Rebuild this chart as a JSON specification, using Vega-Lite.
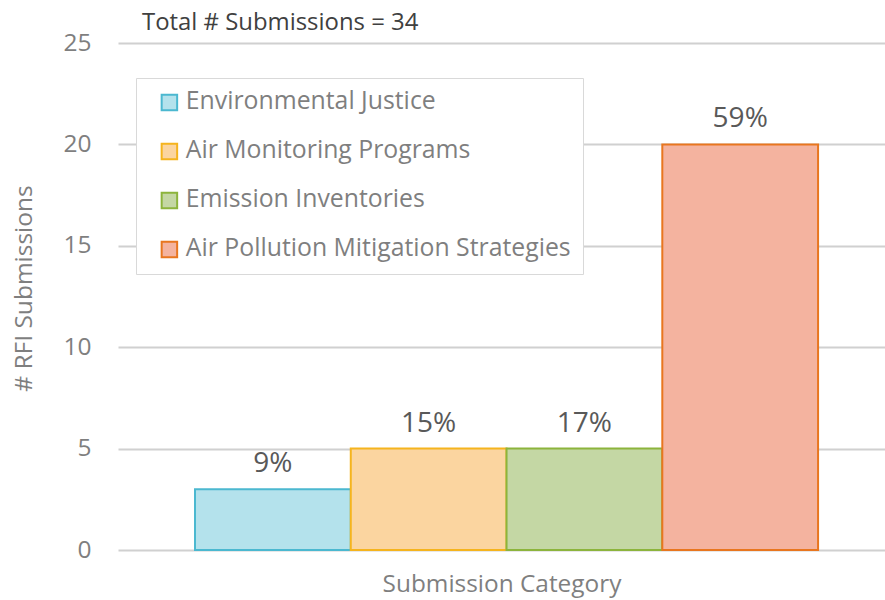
{
  "$schema": "https://vega.github.io/schema/vega-lite/v6.json",
  "width": 767,
  "height": 507,
  "autosize": {"type": "none"},
  "padding": {"left": 118, "top": 43, "right": 0, "bottom": 50},
  "background": "white",
  "title": {
    "text": "Total # Submissions = 34",
    "anchor": "start",
    "frame": "group",
    "dx": 24,
    "dy": 5,
    "offset": 0,
    "font": "Open Sans",
    "fontSize": 23.9,
    "fontWeight": "normal",
    "color": "#404040"
  },
  "data": {
    "values": [
      {"category": "Environmental Justice", "count": 3, "label": "9%"},
      {"category": "Air Monitoring Programs", "count": 5, "label": "15%"},
      {"category": "Emission Inventories", "count": 5, "label": "17%"},
      {"category": "Air Pollution Mitigation Strategies", "count": 20, "label": "59%"}
    ]
  },
  "config": {
    "view": {"stroke": null},
    "font": "Open Sans"
  },
  "encoding": {
    "x": {
      "field": "category",
      "type": "nominal",
      "sort": null,
      "title": "Submission Category",
      "scale": {"paddingInner": 0, "paddingOuter": 0.462, "align": 0.535},
      "axis": {
        "labels": false,
        "ticks": false,
        "domain": false,
        "titleFontSize": 24.4,
        "titleFontWeight": "normal",
        "titleColor": "#7f7f7f",
        "titlePadding": 22
      }
    },
    "y": {
      "field": "count",
      "type": "quantitative",
      "title": "# RFI Submissions",
      "scale": {"domain": [0, 25]},
      "axis": {
        "values": [0, 5, 10, 15, 20, 25],
        "domain": false,
        "ticks": false,
        "gridColor": "#d0d0d0",
        "gridWidth": 2,
        "labelFontSize": 24.5,
        "labelColor": "#7f7f7f",
        "labelPadding": 27,
        "titleFontSize": 24.5,
        "titleFontWeight": "normal",
        "titleColor": "#7f7f7f",
        "titlePadding": 26,
        "titleY": 245
      }
    }
  },
  "layer": [
    {
      "mark": {"type": "bar", "strokeWidth": 2},
      "encoding": {
        "fill": {
          "field": "category",
          "type": "nominal",
          "sort": null,
          "title": null,
          "scale": {
            "domain": ["Environmental Justice", "Air Monitoring Programs", "Emission Inventories", "Air Pollution Mitigation Strategies"],
            "range": ["#b4e2ec", "#fbd5a0", "#c4d7a4", "#f4b39f"]
          },
          "legend": {
            "orient": "none",
            "legendX": 18,
            "legendY": 35,
            "fillColor": "white",
            "strokeColor": "#d9d9d9",
            "padding": 12,
            "symbolOffset": 9,
            "symbolType": "square",
            "symbolSize": 240,
            "symbolStrokeWidth": 2,
            "labelFontSize": 24.8,
            "labelColor": "#7f7f7f",
            "labelOffset": 4,
            "rowPadding": 23,
            "labelLimit": 500
          }
        },
        "stroke": {
          "field": "category",
          "type": "nominal",
          "sort": null,
          "title": null,
          "scale": {
            "domain": ["Environmental Justice", "Air Monitoring Programs", "Emission Inventories", "Air Pollution Mitigation Strategies"],
            "range": ["#4bb8d0", "#f5b41e", "#8cb43c", "#e8761f"]
          }
        }
      }
    },
    {
      "mark": {"type": "text", "baseline": "alphabetic", "dy": -17, "fontSize": 28, "color": "#595959"},
      "encoding": {
        "text": {"field": "label"}
      }
    }
  ]
}
